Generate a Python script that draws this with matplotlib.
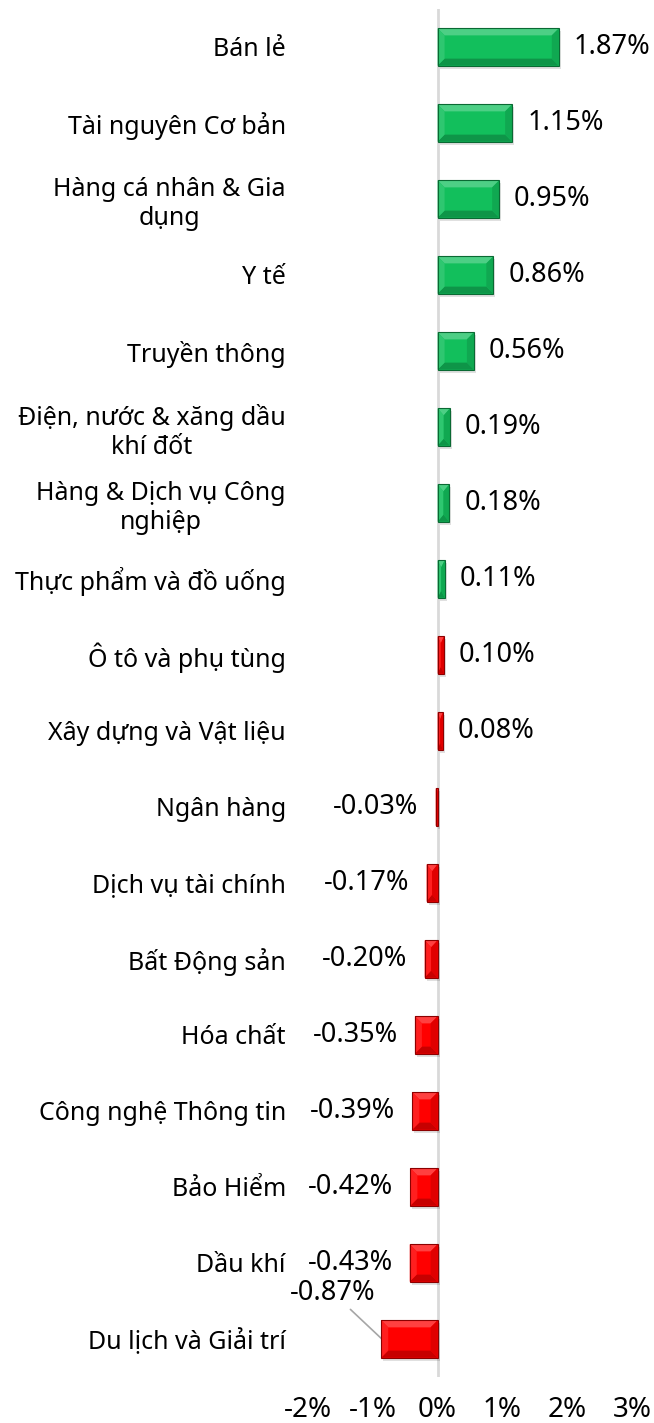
import numpy as np
import matplotlib.pyplot as plt
from matplotlib.patches import Polygon, Rectangle
import matplotlib.colors as mcolors

plt.rcParams['font.family'] = ['Noto Sans', 'DejaVu Sans']

# Du lieu nganh (% thay doi)
nganh = ["Bán lẻ", "Tài nguyên Cơ bản", "Hàng cá nhân & Gia\ndụng", "Y tế",
         "Truyền thông", "Điện, nước & xăng dầu\nkhí đốt",
         "Hàng & Dịch vụ Công\nnghiệp", "Thực phẩm và đồ uống",
         "Ô tô và phụ tùng", "Xây dựng và Vật liệu", "Ngân hàng",
         "Dịch vụ tài chính", "Bất Động sản", "Hóa chất",
         "Công nghệ Thông tin", "Bảo Hiểm", "Dầu khí", "Du lịch và Giải trí"]
thay_doi = [1.87, 1.15, 0.95, 0.86, 0.56, 0.19, 0.18, 0.11, 0.10, 0.08,
            -0.03, -0.17, -0.20, -0.35, -0.39, -0.42, -0.43, -0.87]
mau_nhom = ["xanh"] * 8 + ["do"] * 10
tick_x = [-2, -1, 0, 1, 2, 3]

bang_mau = {"xanh": "#12BF5C", "do": "#FF0000"}

W, H = 654, 1423
fig = plt.figure(figsize=(W / 100, H / 100), dpi=100)
ax = fig.add_axes([308 / W, 1 - 1377 / H, (632 - 308) / W, (1377 - 9) / H])

y = np.arange(len(nganh))
mau = [bang_mau[m] for m in mau_nhom]
bars = ax.barh(y, thay_doi, height=0.49, color=mau, zorder=3)

ax.set_xlim(-2, 3)
ax.set_ylim(len(nganh) - 0.5, -0.5)

# hieu ung vat canh 3D
px_x = 65.0   # pixel / 1%
px_y = 76.0   # pixel / hang
for b, c in zip(bars, mau):
    x0, y0 = b.get_x(), b.get_y()
    x1, y1 = x0 + b.get_width(), y0 + b.get_height()
    if x1 < x0:
        x0, x1 = x1, x0
    # bong do
    ax.add_patch(Rectangle((x0 + 2 / px_x, y0 + 3 / px_y), x1 - x0, y1 - y0,
                           color="#000000", alpha=0.12, lw=0, zorder=2))
    dx = min(7 / px_x, (x1 - x0) / 2)
    dy = min(7 / px_y, (y1 - y0) / 2)
    rgb = np.array(mcolors.to_rgb(c))
    sang = tuple(rgb + (1 - rgb) * 0.25)
    sang2 = tuple(rgb + (1 - rgb) * 0.12)
    toi = tuple(rgb * 0.78)
    toi2 = tuple(rgb * 0.88)
    ax.add_patch(Polygon([(x0, y0), (x1, y0), (x1 - dx, y0 + dy), (x0 + dx, y0 + dy)],
                         color=sang, lw=0, zorder=4))
    ax.add_patch(Polygon([(x0, y1), (x1, y1), (x1 - dx, y1 - dy), (x0 + dx, y1 - dy)],
                         color=toi, lw=0, zorder=4))
    ax.add_patch(Polygon([(x0, y0), (x0 + dx, y0 + dy), (x0 + dx, y1 - dy), (x0, y1)],
                         color=sang2, lw=0, zorder=4))
    ax.add_patch(Polygon([(x1, y0), (x1 - dx, y0 + dy), (x1 - dx, y1 - dy), (x1, y1)],
                         color=toi2, lw=0, zorder=4))
    ax.add_patch(Rectangle((x0, y0), x1 - x0, y1 - y0, fill=False,
                           ec=tuple(rgb * 0.55), lw=0.8, zorder=5))

ax.axvline(0, color="#D9D9D9", lw=2, zorder=1)

# nhan gia tri
fs_nhan = 19.5
for i, v in enumerate(thay_doi):
    txt = f"{v:.2f}%"
    if i == len(thay_doi) - 1:
        ax.annotate(txt, xy=(v + 0.01, i), xytext=(-1.62, i - 0.61),
                    ha="center", va="center", fontsize=fs_nhan,
                    arrowprops=dict(arrowstyle="-", color="#A6A6A6", lw=1.2,
                                    shrinkA=0, shrinkB=0))
    elif v >= 0:
        ax.text(v + 15 / px_x, i, txt, ha="left", va="center", fontsize=fs_nhan)
    else:
        ax.text(v - 17 / px_x, i, txt, ha="right", va="center", fontsize=fs_nhan)

ax.set_yticks(y)
ax.set_yticklabels(nganh, fontsize=18, ha="right", multialignment="center",
                   linespacing=1.2)
ax.set_xticks(tick_x)
ax.set_xticklabels([f"{t}%" for t in tick_x], fontsize=20)
ax.tick_params(axis="y", length=0, pad=16)
ax.tick_params(axis="x", length=0, pad=14)
for s in ax.spines.values():
    s.set_visible(False)

fig.savefig("out.png", dpi=100, facecolor="white")
